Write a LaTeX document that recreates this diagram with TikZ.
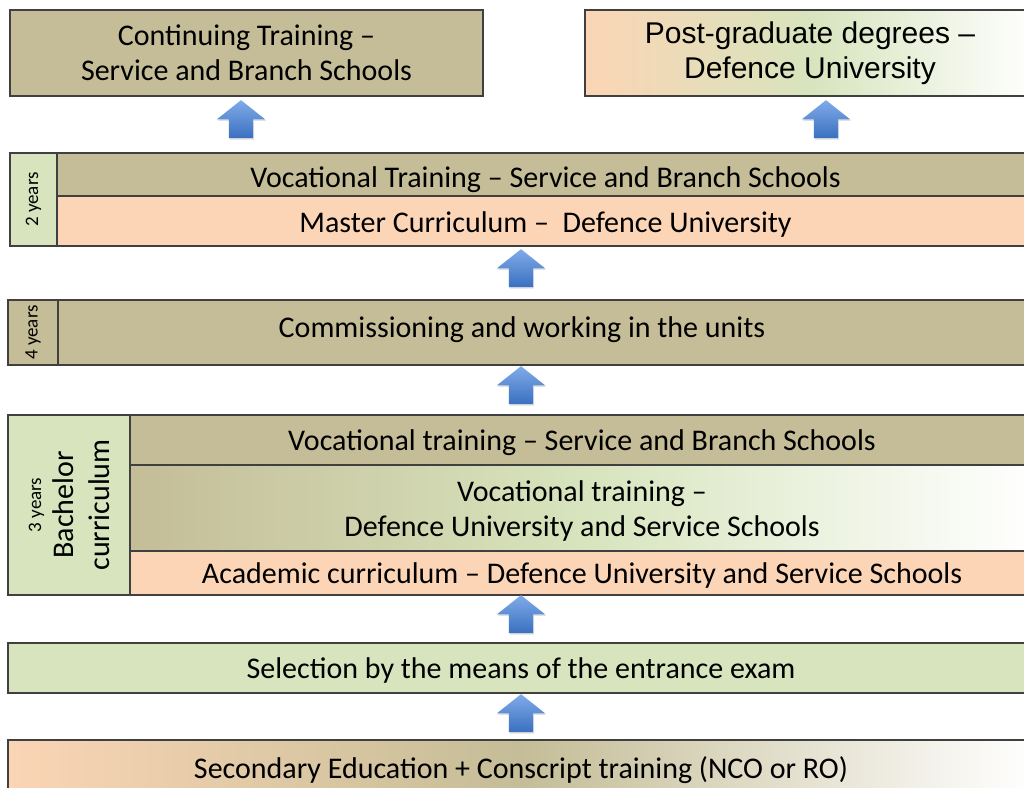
\documentclass[tikz,border=0pt]{standalone}
\usepackage{fontspec}
\setmainfont{Carlito}
\newfontfamily\arialf{Liberation Sans}
\usetikzlibrary{shapes.arrows,shadows,calc}
\definecolor{khaki}{HTML}{C4BD97}
\definecolor{peach}{HTML}{FBD5B5}
\definecolor{lgreen}{HTML}{D7E4BD}
\definecolor{bord}{HTML}{404040}
\definecolor{arrtop}{HTML}{80ABE9}
\definecolor{arrbot}{HTML}{3A70C0}
\newcommand{\lowertext}[2]{\raisebox{-#1}[\height][\depth]{#2}}
\begin{document}
\begin{tikzpicture}[x=1pt,y=-1pt,
  box/.style={draw=bord, line width=1.3pt, rectangle, inner sep=0pt, outer sep=0pt,
    anchor=north west, font=\fontsize{30}{35}\selectfont, align=center},
  small/.style={font=\fontsize{19}{22}\selectfont, rotate=90, inner sep=0pt},
  blockarrow/.style={single arrow, shape border rotate=90, draw=none,
    minimum height=38pt, single arrow head extend=12pt,
    single arrow tip angle=103, single arrow head indent=0pt, inner sep=12pt,
    top color=arrtop, bottom color=arrbot,
    drop shadow={shadow xshift=1pt, shadow yshift=-1.5pt, opacity=0.25}}
]
\useasboundingbox (0,0) rectangle (1024,787);
\clip (0,0) rectangle (1024,787);
% top row
\node[box, fill=khaki, minimum width=473pt, minimum height=86pt] (ct) at (10,10)
  {Continuing Training –\\Service and Branch Schools};
\node[box, left color=peach, right color=white, middle color=lgreen,
  minimum width=450pt, minimum height=86pt, font=\arialf\fontsize{30}{35}\selectfont] (pg) at (585,10)
  {Post-graduate degrees –\\Defence University};
% 2 years block
\node[box, fill=lgreen, minimum width=47pt, minimum height=93pt] (y2) at (10,153) {};
\node[box, fill=khaki, minimum width=977pt, minimum height=43pt] (vt) at (57,153)
  {\lowertext{5pt}{Vocational Training – Service and Branch Schools}};
\node[box, fill=peach, minimum width=977pt, minimum height=50pt] (mc) at (57,196)
  {\lowertext{3pt}{Master Curriculum –\ \ Defence University}};
\node[small] (y2t) at (y2.center) {2 years};
% 4 years block
\node[box, fill=khaki, minimum width=50pt, minimum height=65pt] (y4) at (8,300) {};
\node[box, fill=khaki, minimum width=976pt, minimum height=65pt] (cw) at (58,300) {};
\node[font=\fontsize{30}{35}\selectfont, inner sep=0pt] (cwt) at (522,330)
  {Commissioning and working in the units};
\node[small] (y4t) at (y4.center) {4 years};
% bachelor block
\node[box, fill=lgreen, minimum width=122pt, minimum height=180pt] (bc) at (8,415) {};
\node[rotate=90, align=center, inner sep=0pt, font=\fontsize{30}{36}\selectfont] (bct) at (bc.center)
  {{\fontsize{19}{22}\selectfont 3 years}\\[-4pt]Bachelor\\curriculum};
\node[box, fill=khaki, minimum width=904pt, minimum height=50pt] (vs) at (130,415)
  {\lowertext{3pt}{Vocational training – Service and Branch Schools}};
\node[box, left color=khaki, right color=white, middle color=lgreen,
  minimum width=904pt, minimum height=86pt] (vd) at (130,465)
  {\lowertext{3pt}{Vocational training –}\\\lowertext{3pt}{Defence University and Service Schools}};
\node[box, fill=peach, minimum width=904pt, minimum height=44pt] (ac) at (130,551)
  {\lowertext{2pt}{Academic curriculum – Defence University and Service Schools}};
% selection and secondary
\node[box, fill=lgreen, minimum width=1026pt, minimum height=50pt] (se) at (8,643)
  {\lowertext{2pt}{Selection by the means of the entrance exam}};
\node[box, left color=peach, right color=white, middle color=khaki,
  minimum width=1026pt, minimum height=60pt] (sc) at (8,740)
  {Secondary Education + Conscript training (NCO or RO)};
% arrows
\node[blockarrow] (a1) at (241,124) {};
\node[blockarrow] (a2) at (826,124) {};
\node[blockarrow] (a3) at (521,273) {};
\node[blockarrow] (a4) at (521,390) {};
\node[blockarrow] (a5) at (521,619) {};
\node[blockarrow] (a6) at (521,718) {};
\end{tikzpicture}
\end{document}
